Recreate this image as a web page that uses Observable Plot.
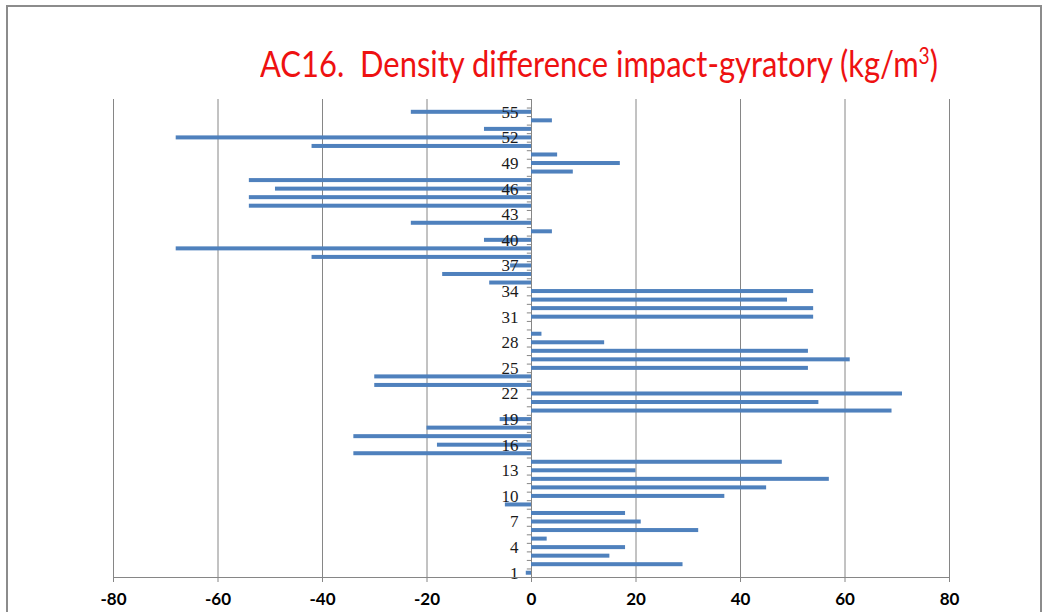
<!DOCTYPE html>
<html>
<head>
<meta charset="utf-8">
<script src="https://cdn.jsdelivr.net/npm/d3@7"></script>
<script src="https://cdn.jsdelivr.net/npm/@observablehq/plot@0.6"></script>
<style>
  html, body { margin: 0; padding: 0; background: #fff; overflow: hidden; width: 1048px; height: 612px; }
  #frame { position: absolute; left: 6px; top: 5px; width: 1036px; height: 700px; border: 2px solid #8c8c8c; box-sizing: border-box; }
  #title { position: absolute; left: 0; top: 0; width: 1048px; height: 95px; }
  #title span { position: absolute; left: 260px; top: 40px; font-family: Lato, sans-serif; font-size: 37px; color: #ee1111; white-space: pre; transform-origin: 0 0; }
  #title sup { font-size: 0.62em; vertical-align: 0.55em; line-height: 0; }
  #chart { position: absolute; left: 0; top: 95px; }
</style>
</head>
<body>
<div id="frame"></div>
<div id="title"><span id="titleText">AC16.  Density difference impact-gyratory (kg/m<sup>3</sup>)</span></div>
<div id="chart"></div>
<script>
const categories = [1,2,3,4,5,6,7,8,9,10,11,12,13,14,15,16,17,18,19,20,21,22,23,24,25,26,27,28,29,30,31,32,33,34,35,36,37,38,39,40,41,42,43,44,45,46,47,48,49,50,51,52,53,54,55];
const values = [-1,29,15,18,3,32,21,18,-5,37,45,57,20,48,-34,-18,-34,-20,-6,69,55,71,-30,-30,53,61,53,14,2,0,54,54,49,54,-8,-17,-4,-42,-68,-9,4,-23,0,-54,-54,-49,-54,8,17,5,-42,-68,-9,4,-23];
const yTickLabels = [1,4,7,10,13,16,19,22,25,28,31,34,37,40,43,46,49,52,55];
const xTicks = [-80,-60,-40,-20,0,20,40,60,80];

const data = categories.map((c, i) => ({cat: c, value: values[i]}));
const yDomain = [...categories, 56].reverse();

const W = 1048, H = 517;
const mt = 4, mb = 35;
const step = (H - mt - mb) / yDomain.length;

const chart = Plot.plot({
  width: W,
  height: H,
  marginLeft: 113,
  marginRight: 99,
  marginTop: mt,
  marginBottom: mb,
  x: {domain: [-80, 80], label: null},
  y: {domain: yDomain, padding: 0, axis: null},
  marks: [
    Plot.ruleX(xTicks, {stroke: "#868686", strokeWidth: 1}),
    Plot.barX(data, {x: "value", y: "cat", fill: "#4f81bd", insetTop: (step - 4) / 2, insetBottom: (step - 4) / 2}),
    Plot.ruleY(yDomain, {y: d => d, x1: 0, x2: -0.8, dy: -step / 2, stroke: "#868686"}),
    Plot.text(yTickLabels, {x: 0, y: d => d, text: d => String(d), textAnchor: "end", dx: -13, fontFamily: "Liberation Serif, serif", fontSize: 17, fill: "#1a1a1a"}),
    Plot.axisX({ticks: xTicks, tickSize: 5, tickPadding: 10, label: null, tickFormat: d => String(d), fontFamily: "Lato, sans-serif", fontSize: 17, fontWeight: "bold", fill: "#000", stroke: "#868686"}),
    Plot.frame({anchor: "bottom", stroke: "#868686"})
  ],
  style: {background: "transparent", overflow: "visible"}
});
document.getElementById("chart").appendChild(chart);

// fit title to the reference width
const t = document.getElementById("titleText");
const w = t.getBoundingClientRect().width;
t.style.transform = `scaleX(${678 / w})`;
</script>
</body>
</html>
